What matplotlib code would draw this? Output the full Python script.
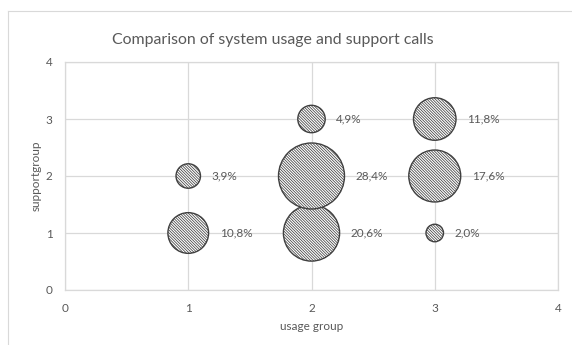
import matplotlib
matplotlib.use("Agg")
import matplotlib.pyplot as plt
from matplotlib.lines import Line2D
import numpy as np

# Bubble chart data: usage group vs support group, share of calls (%)
usage_group = [1, 1, 2, 2, 2, 3, 3, 3]
support_group = [1, 2, 1, 2, 3, 1, 2, 3]
share_pct = [10.8, 3.9, 20.6, 28.4, 4.9, 2.0, 17.6, 11.8]
x_ticks = [0, 1, 2, 3, 4]
y_ticks = [0, 1, 2, 3, 4]

W, H, DPI = 572, 345, 100
plt.rcParams['font.family'] = ['Lato', 'DejaVu Sans']
plt.rcParams['hatch.linewidth'] = 0.55
plt.rcParams['hatch.color'] = '#3a3a3a'

fig = plt.figure(figsize=(W / DPI, H / DPI), dpi=DPI)
TXT = '#595959'
GRID = '#d9d9d9'

# chart frame (top and left edges)
fig.add_artist(Line2D([8 / W, 1], [1 - 11 / H, 1 - 11 / H], color=GRID, lw=0.8, transform=fig.transFigure))
fig.add_artist(Line2D([8 / W, 8 / W], [0, 1 - 11 / H], color=GRID, lw=0.8, transform=fig.transFigure))

left, right, top, bottom = 65, 558, 62, 290
ax = fig.add_axes([left / W, 1 - bottom / H, (right - left) / W, (bottom - top) / H])
ax.set_xlim(0, 4)
ax.set_ylim(0, 4)
ax.set_xticks(x_ticks)
ax.set_yticks(y_ticks)
ax.grid(True, color=GRID, lw=0.9)
ax.set_axisbelow(True)
for s in ax.spines.values():
    s.set_color(GRID)
    s.set_linewidth(0.9)
ax.tick_params(length=0, colors=TXT, labelsize=8.5)
ax.tick_params(axis='x', pad=9)
ax.tick_params(axis='y', pad=9)

# bubble area proportional to value; largest bubble ~66 px across
max_diam_px = 66
px2pt = 72 / DPI
vals = np.array(share_pct)
diam_pt = max_diam_px * px2pt * np.sqrt(vals / vals.max())
ax.scatter(usage_group, support_group, s=diam_pt ** 2, facecolor='white',
           edgecolor='#404040', linewidth=1.0, hatch='\\' * 12, zorder=3)

for x, y, v, d in zip(usage_group, support_group, share_pct, diam_pt):
    label = f"{v:.1f}%".replace('.', ',')
    ax.annotate(label, (x, y), xytext=(d / 2 + 11 * px2pt, 0), textcoords='offset points',
                ha='left', va='center', fontsize=8.5, color=TXT, zorder=4)

ax.set_xlabel('usage group', color=TXT, fontsize=8.5)
ax.xaxis.set_label_coords(0.5, -(326 - bottom) / (bottom - top), transform=ax.transAxes)
ax.xaxis.label.set_va('center')
ax.set_ylabel('supportgroup', color=TXT, fontsize=8.5)
ax.yaxis.set_label_coords(-(left - 36) / (right - left), 0.5)
ax.yaxis.label.set_va('center')

fig.text(273 / W, 1 - 40 / H, 'Comparison of system usage and support calls',
         ha='center', va='center', fontsize=11.4, color=TXT)

fig.savefig('out.png', dpi=DPI)
